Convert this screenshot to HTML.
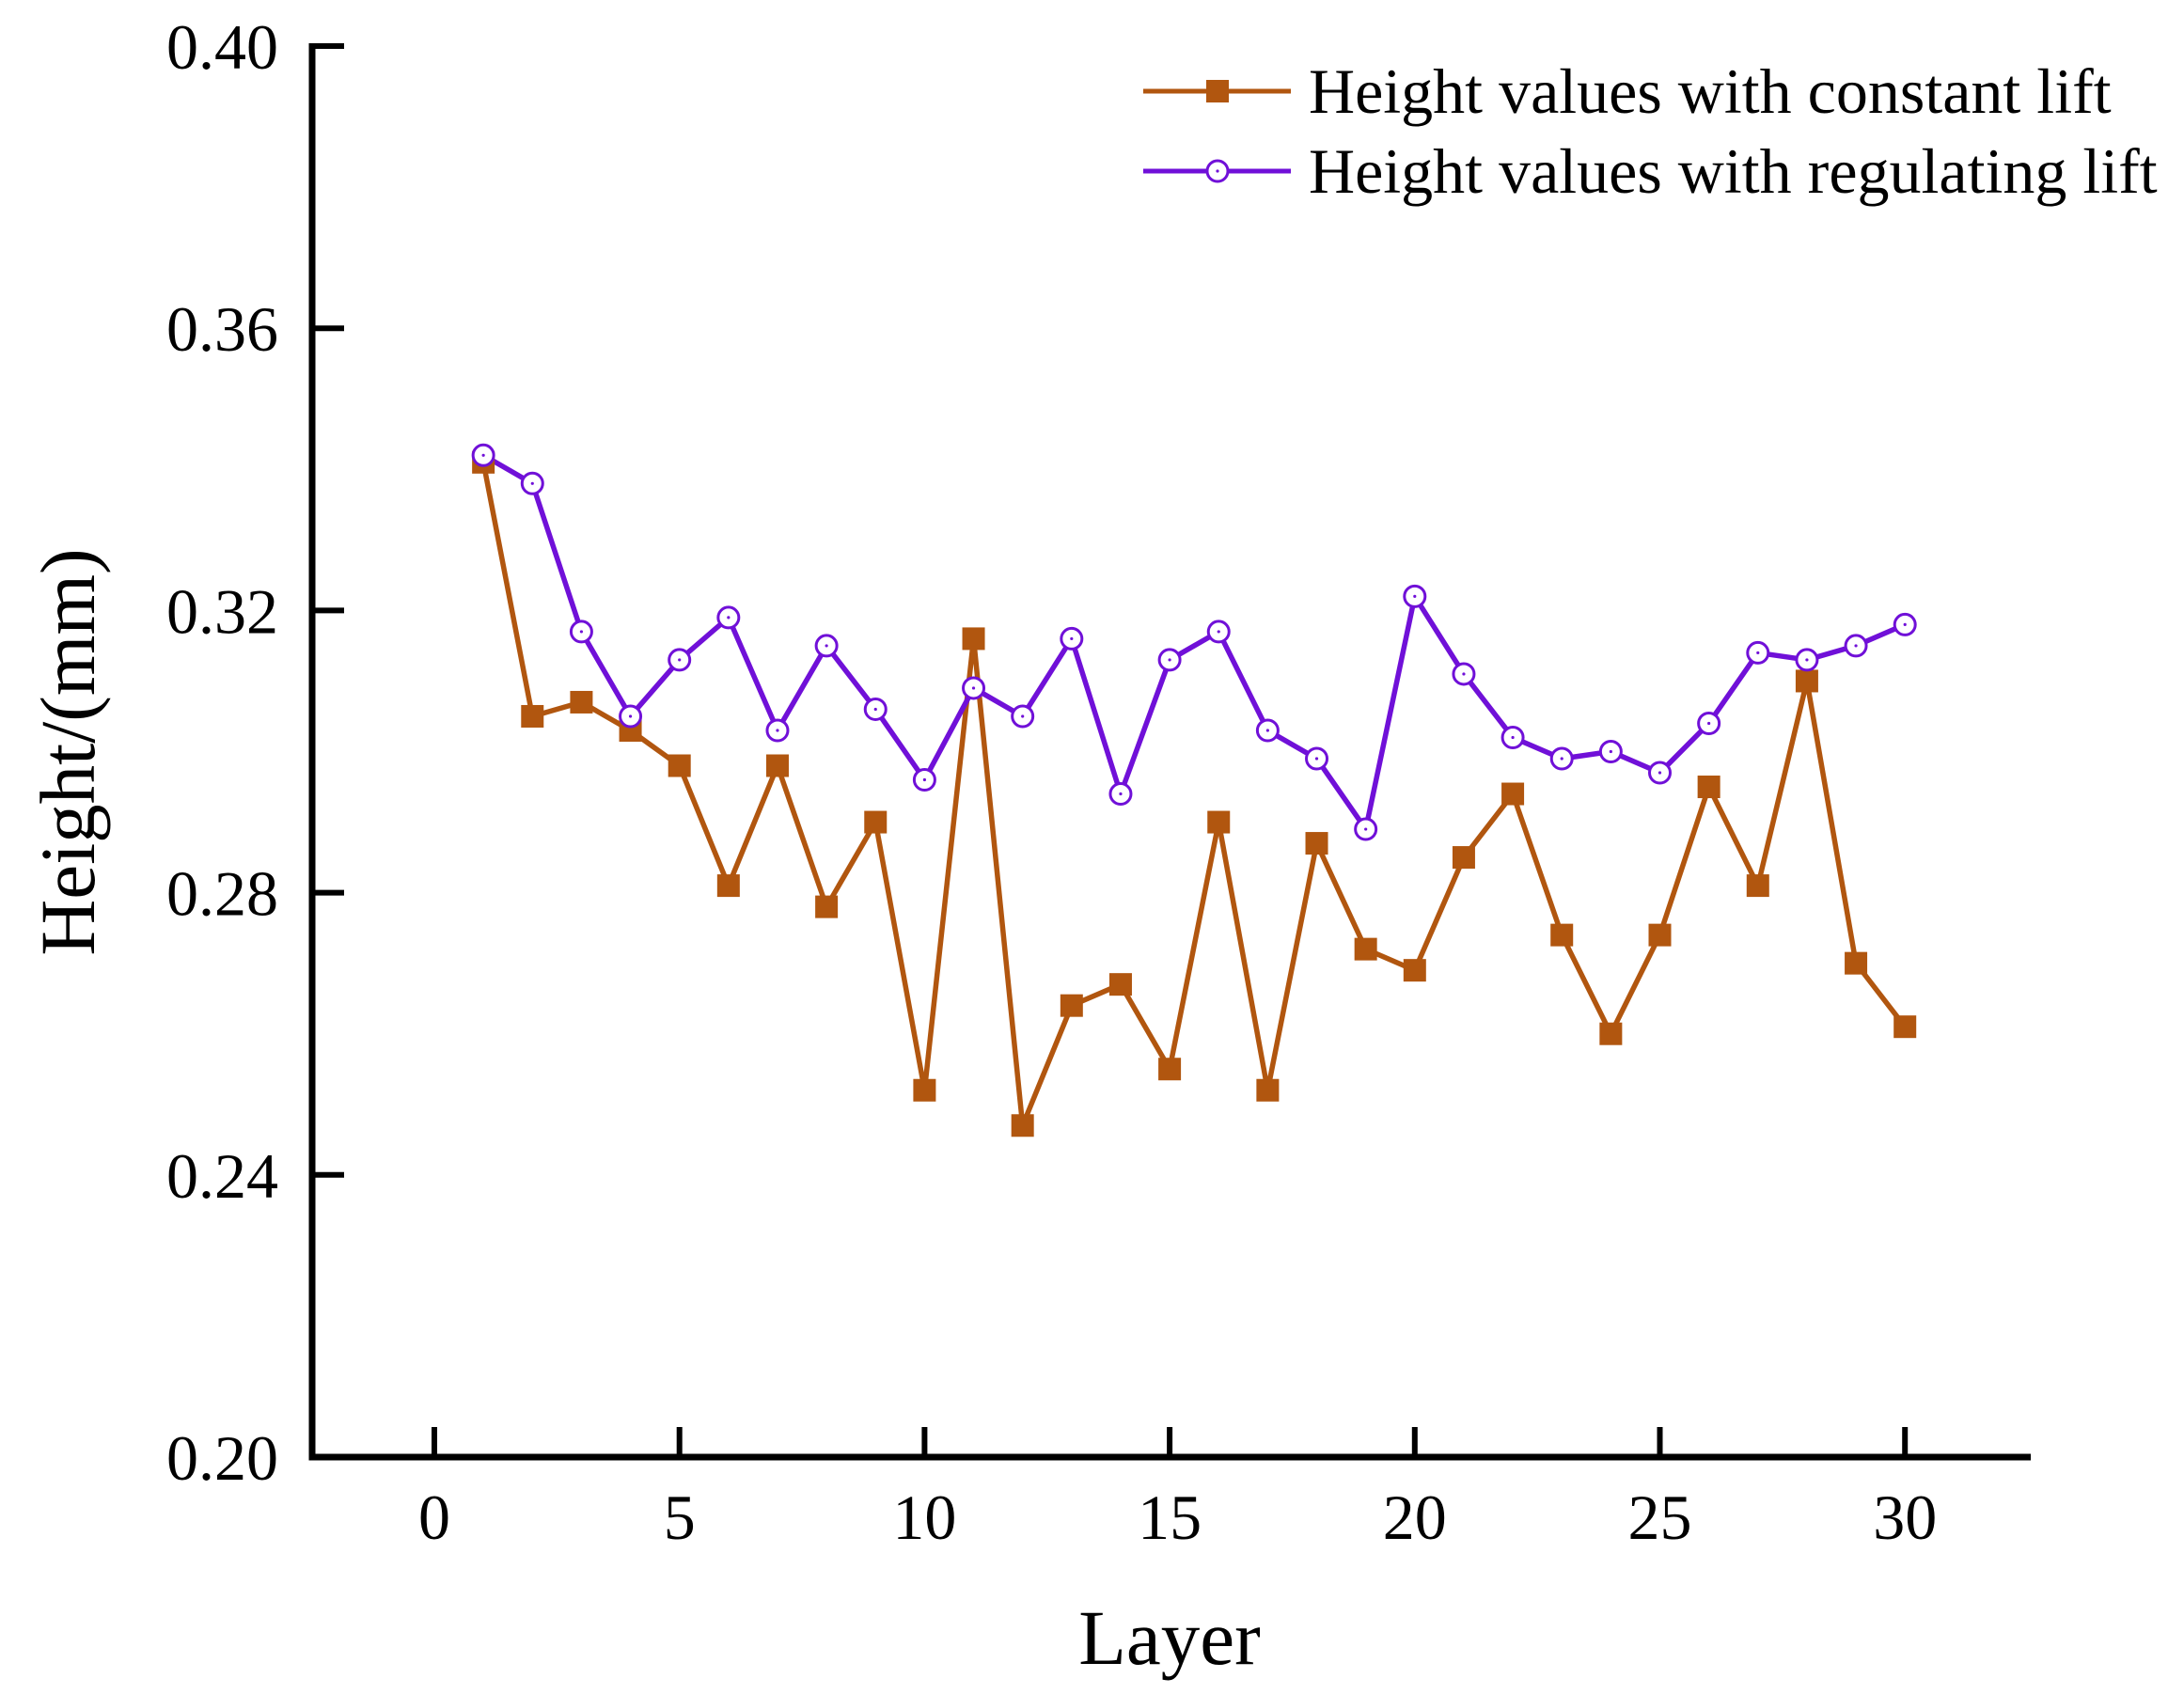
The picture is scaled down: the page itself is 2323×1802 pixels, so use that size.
<!DOCTYPE html>
<html><head><meta charset="utf-8"><style>
body{margin:0;background:#fff}
svg{display:block;font-family:"Liberation Serif",serif}
</style></head><body>
<svg id="chart" width="2323" height="1802" viewBox="0 0 2323 1802">
<g id="axes"></g>
<g id="series"></g>
<g id="legend">
 <line x1="1216" y1="97" x2="1373" y2="97" stroke="#B1560F" stroke-width="5"/>
 <rect x="1283" y="85" width="24" height="24" fill="#B1560F"/>
 <text x="1392" y="120" font-size="68">Height values with constant lift</text>
 <line x1="1216" y1="182" x2="1373" y2="182" stroke="#7010D8" stroke-width="5"/>
 <circle cx="1295" cy="182" r="11" fill="#fff" stroke="#7010D8" stroke-width="3"/>
 <circle cx="1295" cy="182" r="1.6" fill="#7010D8"/>
 <text x="1392" y="205" font-size="68">Height values with regulating lift</text>
</g>
<text x="1244" y="1770" font-size="83" text-anchor="middle">Layer</text>
<text transform="translate(100,800) rotate(-90)" font-size="83" text-anchor="middle">Height/(mm)</text>
</svg>
<script>
const layers = [1,2,3,4,5,6,7,8,9,10,11,12,13,14,15,16,17,18,19,20,21,22,23,24,25,26,27,28,29,30];
const constantLift = [0.341,0.305,0.307,0.303,0.298,0.281,0.298,0.278,0.290,0.252,0.316,0.247,0.264,0.267,0.255,0.290,0.252,0.287,0.272,0.269,0.285,0.294,0.274,0.260,0.274,0.295,0.281,0.310,0.270,0.261];
const regulatingLift = [0.342,0.338,0.317,0.305,0.313,0.319,0.303,0.315,0.306,0.296,0.309,0.305,0.316,0.294,0.313,0.317,0.303,0.299,0.289,0.322,0.311,0.302,0.299,0.300,0.297,0.304,0.314,0.313,0.315,0.318];
const xTicks = [0,5,10,15,20,25,30];
const yTicks = [0.20,0.24,0.28,0.32,0.36,0.40];
const yTickLabels = ["0.20","0.24","0.28","0.32","0.36","0.40"];

const NS="http://www.w3.org/2000/svg";
const X0=462, XS=260.7/5, Y0=1550, YT=49;
function xs(v){return X0+v*XS;}
function ys(v){return Y0-(v-0.20)/(0.20)*(Y0-YT);}
function mk(tag,attrs,parent){const e=document.createElementNS(NS,tag);for(const k in attrs)e.setAttribute(k,attrs[k]);parent.appendChild(e);return e;}
const axes=document.getElementById('axes'), series=document.getElementById('series');

let el=mk('line',{x1:332,y1:YT-3,x2:332,y2:Y0+3.5,stroke:'#000','stroke-width':7},axes);


el=mk('line',{x1:328.5,y1:Y0,x2:2160,y2:Y0,stroke:'#000','stroke-width':7},axes);


yTicks.forEach((t,i)=>{
  const y=ys(t);
  if(i>0){
    let tk=mk('line',{x1:332,y1:y,x2:366,y2:y,stroke:'#000','stroke-width':6},axes);
    
    
  }
  let tl=mk('text',{x:296,y:y+24,'font-size':68,'text-anchor':'end'},axes);
  tl.textContent=yTickLabels[i];
  
  
});
xTicks.forEach(t=>{
  const x=xs(t);
  let tk=mk('line',{x1:x,y1:Y0,x2:x,y2:Y0-32,stroke:'#000','stroke-width':6},axes);
  
  
  let tl=mk('text',{x:x,y:1637,'font-size':68,'text-anchor':'middle'},axes);
  tl.textContent=String(t);
  
  
});
function drawLine(vals,color,name){
  const pts=layers.map((l,i)=>xs(l)+','+ys(vals[i])).join(' ');
  let p=mk('polyline',{points:pts,fill:'none',stroke:color,'stroke-width':5.5,'stroke-linejoin':'miter'},series);
  
  
}
drawLine(constantLift,'#B1560F','constant-lift');
drawLine(regulatingLift,'#7010D8','regulating-lift');
layers.forEach((l,i)=>{
  let r=mk('rect',{x:xs(l)-12,y:ys(constantLift[i])-12,width:24,height:24,fill:'#B1560F'},series);
  
  
});
layers.forEach((l,i)=>{
  let c=mk('circle',{cx:xs(l),cy:ys(regulatingLift[i]),r:11,fill:'#fff',stroke:'#7010D8','stroke-width':3},series);
  
  
  let d=mk('circle',{cx:xs(l),cy:ys(regulatingLift[i]),r:1.6,fill:'#7010D8'},series);
  
  
});
</script>
</body></html>
